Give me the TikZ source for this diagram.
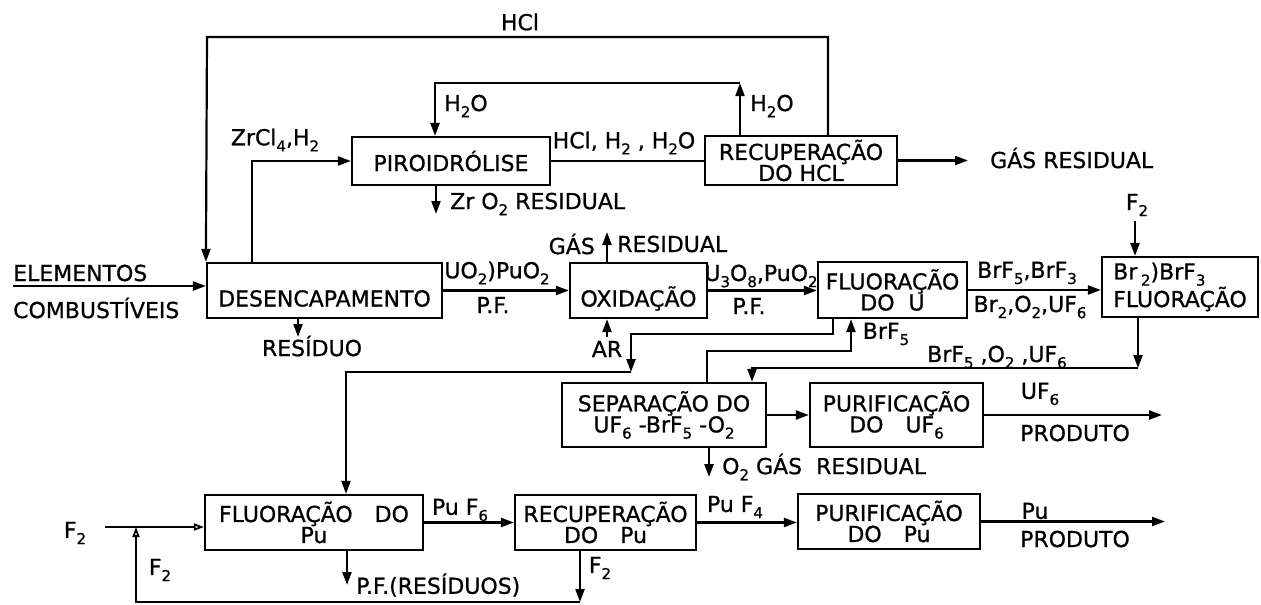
\documentclass[tikz,border=0pt]{standalone}
\usepackage{fontspec}
\setmainfont{DejaVu Sans}[FakeBold=0.8]
\usetikzlibrary{arrows.meta}
\newcommand\sbs[1]{\raisebox{-0.28em}{\fontsize{15}{15}\selectfont #1}}
\newcommand\bfnt{\fontsize{22}{21}\selectfont}
\tikzset{
  box/.style={draw, line width=2.2pt, inner sep=0pt, align=center, font=\bfnt},
  lowtext/.style={text height=32pt, text depth=0pt},
  lab/.style={inner sep=0pt, font=\bfnt},
  wire/.style={line width=2.2pt},
  flow/.style={line width=2.2pt, -{Triangle[length=13pt,width=9pt]}},
  oflow/.style={line width=1.8pt, -{Triangle[open,length=10pt,width=7pt]}},
}
\begin{document}
\begin{tikzpicture}[x=1pt,y=-1pt]
\fill[white] (0,0) rectangle (1261,605);
\useasboundingbox (0,0) rectangle (1261,605);

% boxes
\node[box, minimum width=198pt, minimum height=48pt] (piro) at (451,161) {PIROIDRÓLISE};
\node[box, minimum width=192pt, minimum height=49pt] (recup) at (801,160.5) {RECUPERAÇÃO\\DO HCL};
\node[box, lowtext, minimum width=235pt, minimum height=55pt] (desenc) at (324.5,290.5) {DESENCAPAMENTO};
\node[box, lowtext, minimum width=137pt, minimum height=55pt] (oxid) at (638.5,290.5) {OXIDAÇÃO};
\node[box, minimum width=149pt, minimum height=56pt] (fluu) at (892.5,290) {FLUORAÇÃO\\DO\ \ U};
\node[box, align=left, minimum width=156pt, minimum height=60pt] (brf) at (1180,287) {Br\,\sbs{2})BrF\sbs{3}\\FLUORAÇÃO};
\node[box, minimum width=204pt, minimum height=64pt] (sep) at (664,415) {SEPARAÇÃO DO\\UF\sbs{6} -BrF\sbs{5} -O\sbs{2}};
\node[box, minimum width=173pt, minimum height=64pt] (puru) at (896.5,415) {PURIFICAÇÃO\\DO\quad UF\sbs{6}};
\node[box, minimum width=218pt, minimum height=55pt] (flupu) at (314,522.5) {FLUORAÇÃO\quad DO\\Pu};
\node[box, minimum width=181pt, minimum height=55pt] (recpu) at (605.5,522.5) {RECUPERAÇÃO\\DO\quad Pu};
\node[box, minimum width=182pt, minimum height=55pt] (purpu) at (889,521.5) {PURIFICAÇÃO\\DO\quad Pu};

% helper coordinates
\coordinate (hclA) at (828,37);
\coordinate (hclB) at (207,37);
\coordinate (h2oR) at (740,83);
\coordinate (h2oL) at (435,83);
\coordinate (zrC) at (252,161);
\coordinate (zrO) at (436,214);
\coordinate (gas1) at (968,160.5);
\coordinate (in1) at (13,286);
\coordinate (res) at (298,337);
\coordinate (gasO) at (607,232);
\coordinate (ar) at (607,337);
\coordinate (f2t) at (1135,221);
\coordinate (cA) at (833,334);
\coordinate (cB) at (631,334);
\coordinate (cC) at (631,372);
\coordinate (cD) at (346,372);
\coordinate (sA) at (707,351);
\coordinate (sB) at (851,351);
\coordinate (bA) at (1138,368);
\coordinate (bB) at (752,368);
\coordinate (outU) at (1162,413);
\coordinate (o2) at (709,477);
\coordinate (f2in) at (105,527);
\coordinate (pf) at (347,585);
\coordinate (rA) at (580,602);
\coordinate (rB) at (136,602);
\coordinate (rC) at (136,527);
\coordinate (outPu) at (1165,524);

% connectors
\draw[flow] (recup.north -| hclA) -- (hclA) -- (hclB) -- (desenc.north west);
\draw[flow] (recup.north -| h2oR) -- (h2oR);
\draw[flow] (h2oR) -- (h2oL) -- (piro.north -| h2oL);
\draw[flow] (desenc.north -| zrC) -- (zrC) -- (piro.west);
\draw[wire] (piro.east) -- (piro.east -| recup.west);
\draw[flow] (piro.south -| zrO) -- (zrO);
\draw[flow] (recup.east) -- (gas1);
\draw[flow] (in1) -- (in1 -| desenc.west);
\draw[flow] (desenc.south -| res) -- (res);
\draw[flow] (desenc.east) -- (oxid.west);
\draw[flow] (oxid.north -| gasO) -- (gasO);
\draw[flow] (ar) -- (oxid.south -| ar);
\draw[flow] (oxid.east) -- (oxid.east -| fluu.west);
\draw[flow] (fluu.east) -- (fluu.east -| brf.west);
\draw[flow] (f2t) -- (brf.north -| f2t);
\draw[flow] (fluu.south -| cA) -- (cA) -- (cB) -- (cC);
\draw[flow] (cC) -- (cD) -- (flupu.north -| cD);
\draw[flow] (sep.north -| sA) -- (sA) -- (sB) -- (fluu.south -| sB);
\draw[flow] (brf.south -| bA) -- (bA);
\draw[flow] (bA) -- (bB) -- (sep.north -| bB);
\draw[flow] (sep.east) -- (puru.west);
\draw[flow] (puru.east) -- (puru.east -| outU);
\draw[flow] (sep.south -| o2) -- (o2);
\draw[oflow] (f2in) -- (f2in -| flupu.west);
\draw[flow] (flupu.south -| pf) -- (pf);
\draw[flow] (flupu.east) -- (recpu.west);
\draw[flow] (recpu.south -| rA) -- (rA);
\draw[oflow] (rA) -- (rB) -- (rC);
\draw[flow] (recpu.east) -- (recpu.east -| purpu.west);
\draw[flow] (purpu.east) -- (purpu.east -| outPu);

% labels
\node[lab] (lhcl) at (520,22) {HCl};
\node[lab] (lzrcl) at (275,140) {ZrCl\sbs{4},H\sbs{2}};
\node[lab] (lh2oa) at (466,106) {H\sbs{2}O};
\node[lab] (lh2ob) at (772,106) {H\sbs{2}O};
\node[lab] (lhclh) at (624,143) {HCl, H\sbs{2} , H\sbs{2}O};
\node[lab, anchor=west] (lzro) at (450,204) {Zr O\sbs{2} RESIDUAL};
\node[lab, anchor=west] (lgas1) at (990,158) {GÁS RESIDUAL};
\node[lab, anchor=west] (lelem) at (13,273) {ELEMENTOS};
\node[lab, anchor=west] (lcomb) at (13,308) {COMBUSTÍVEIS};
\node[lab] (lres) at (312,346) {RESÍDUO};
\node[lab] (luo) at (497,273) {UO\sbs{2})PuO\sbs{2}};
\node[lab] (lpf1) at (493,305) {P.F.};
\node[lab, anchor=east] (lgasa) at (595,244) {GÁS};
\node[lab, anchor=west] (lgasb) at (617,244) {RESIDUAL};
\node[lab] (lar) at (607,349) {AR};
\node[lab] (lu3o8) at (761,276) {U\sbs{3}O\sbs{8},PuO\sbs{2}};
\node[lab] (lpf2) at (749,306) {P.F.};
\node[lab] (lbrf) at (1027,273) {BrF\sbs{5},BrF\sbs{3}};
\node[lab] (lbr2) at (1030,307) {Br\sbs{2},O\sbs{2},UF\sbs{6}};
\node[lab] (lf2a) at (1137,205) {F\sbs{2}};
\node[lab] (lbrf5) at (886,334) {BrF\sbs{5}};
\node[lab] (lbrf5b) at (997,357) {BrF\sbs{5} ,O\sbs{2} ,UF\sbs{6}};
\node[lab] (luf6) at (1040,394) {UF\sbs{6}};
\node[lab] (lprod1) at (1075,433) {PRODUTO};
\node[lab, anchor=west] (lo2) at (722,467) {O\sbs{2} GÁS\ \ RESIDUAL};
\node[lab] (lf2b) at (75,533) {F\sbs{2}};
\node[lab] (lpuf6) at (460,510) {Pu F\sbs{6}};
\node[lab, anchor=west] (lpfr) at (356,585) {P.F.(RESÍDUOS)};
\node[lab] (lf2c) at (600,568) {F\sbs{2}};
\node[lab] (lf2d) at (160,570) {F\sbs{2}};
\node[lab] (lpuf4) at (735,507) {Pu F\sbs{4}};
\node[lab] (lpu) at (1035,511) {Pu};
\node[lab] (lprod2) at (1075,539) {PRODUTO};
\end{tikzpicture}
\end{document}
